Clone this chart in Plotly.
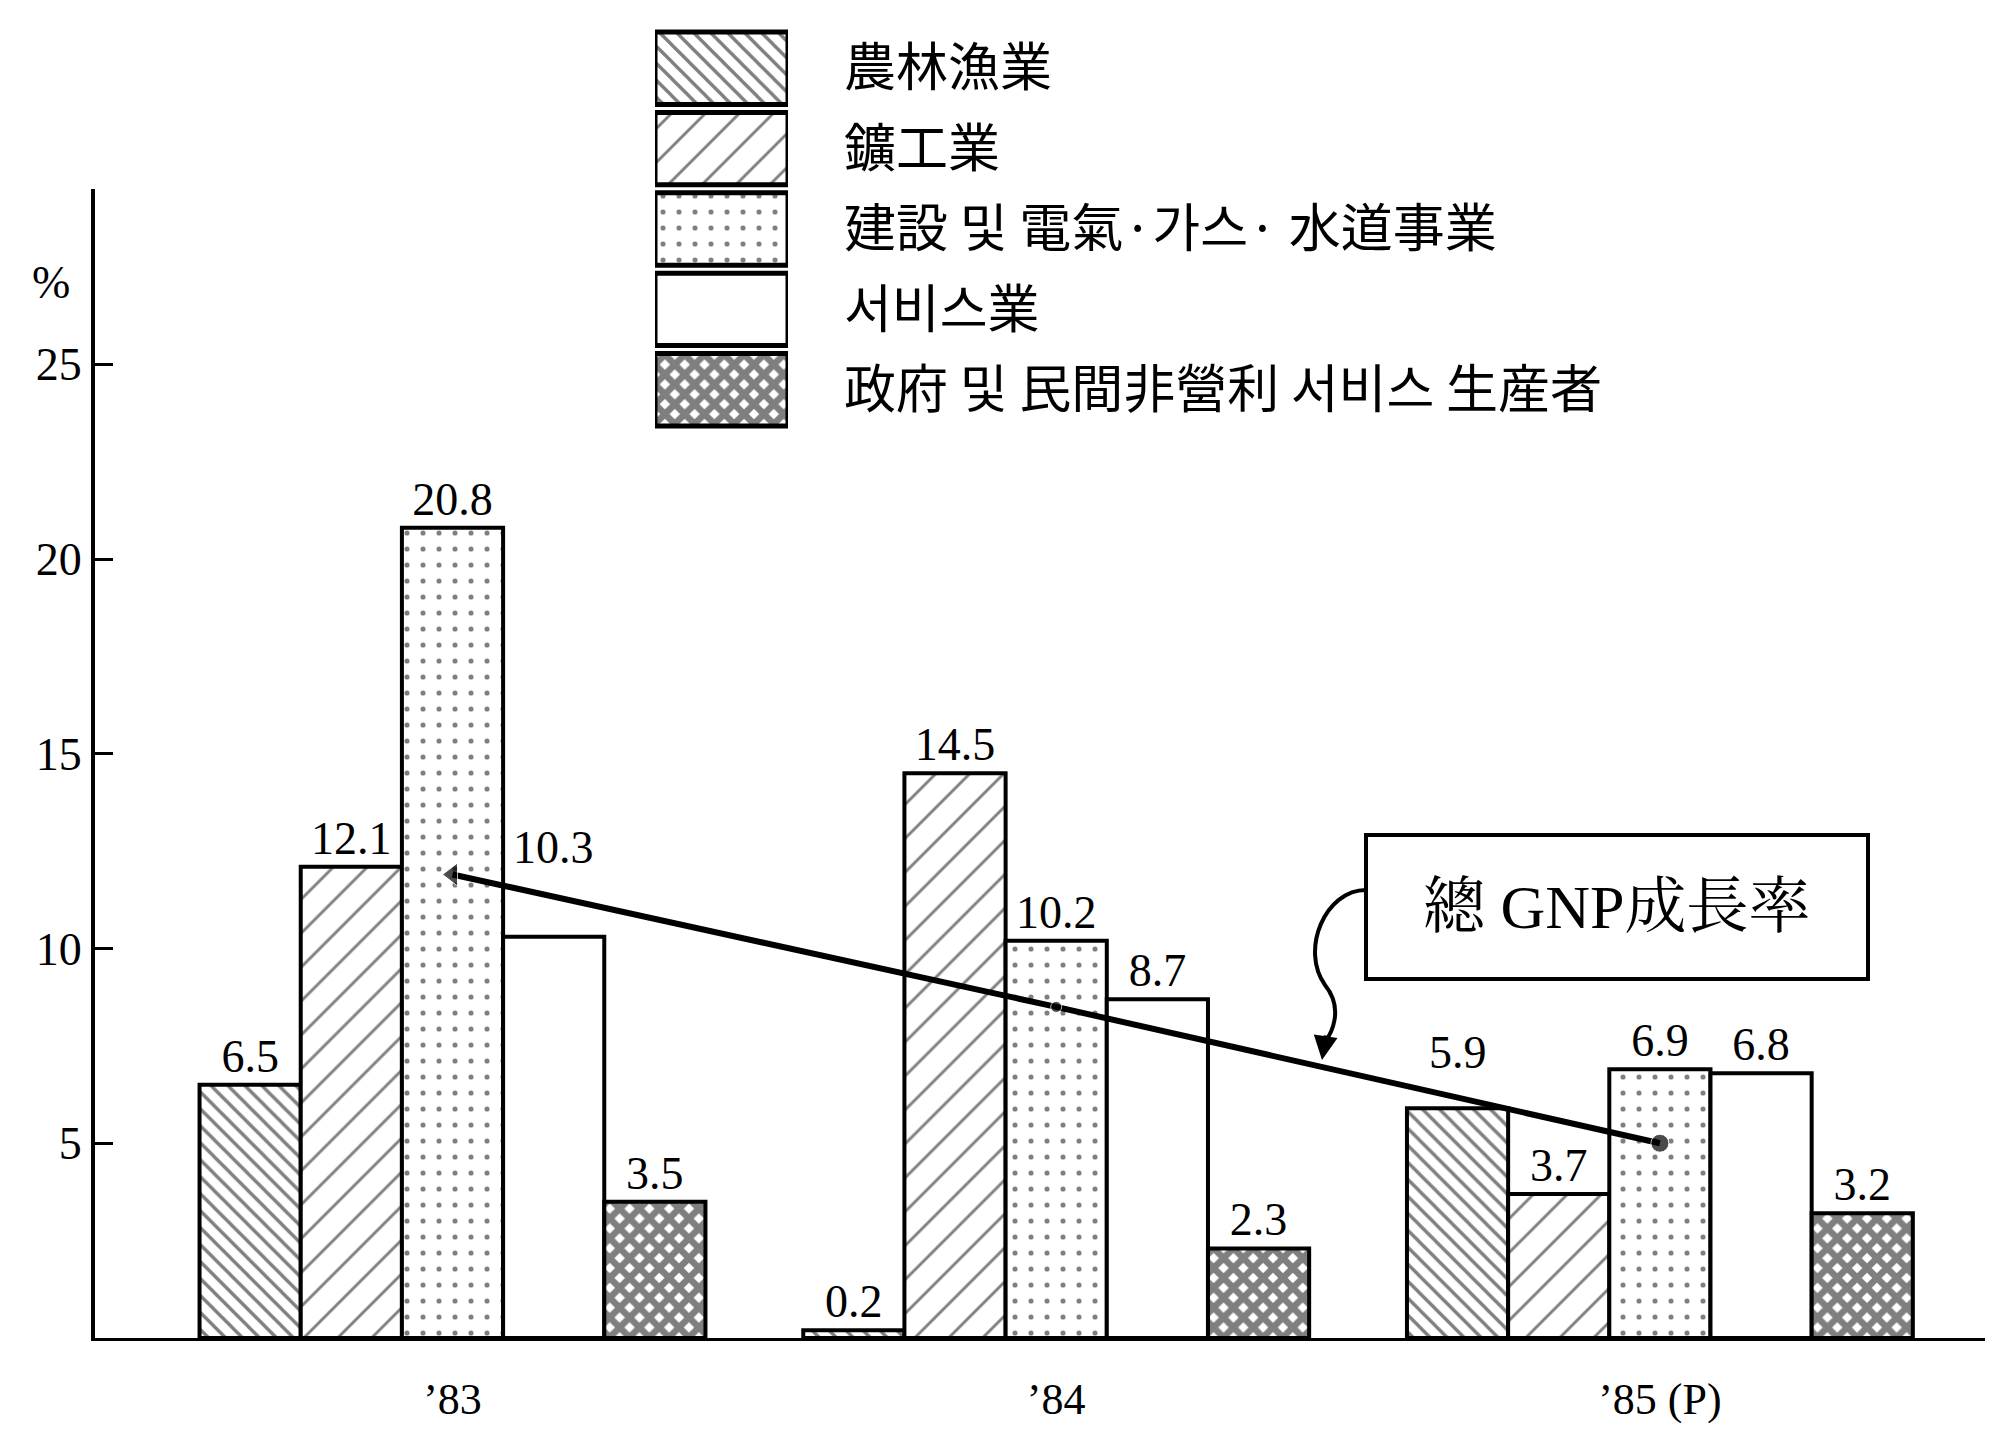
import plotly.graph_objects as go

# ---------------- data ----------------
years = ["’83", "’84", "’85 (P)"]
series_names = [
    "農林漁業",
    "鑛工業",
    "建設 및 電氣·가스· 水道事業",
    "서비스業",
    "政府 및 民間非營利 서비스 生産者",
]
agri = [6.5, 0.2, 5.9]
mining = [12.1, 14.5, 3.7]
construction = [20.8, 10.2, 6.9]
services = [10.3, 8.7, 6.8]
government = [3.5, 2.3, 3.2]
gnp_growth = [11.9, 8.5, 5.0]
gnp_label = "總 GNP成長率"
y_ticks = [5, 10, 15, 20, 25]

series_values = [agri, mining, construction, services, government]

# ---------------- styles ----------------
SERIF = "Liberation Serif, Noto Serif CJK KR, Noto Sans CJK KR, serif"
CJK = "Noto Sans CJK KR, Noto Sans CJK JP, sans-serif"
patterns = [
    dict(shape="\\", size=12, solidity=0.28, fgcolor="black", bgcolor="white"),
    dict(shape="/", size=24, solidity=0.12, fgcolor="black", bgcolor="white"),
    dict(shape=".", size=16, solidity=0.08, fgcolor="black", bgcolor="white"),
    dict(shape="", fgcolor="black", bgcolor="white"),
    dict(shape="x", size=14, solidity=0.72, fgcolor="black", bgcolor="white"),
]
# labels lifted above the GNP line: (series index, year index) -> extra pixels
label_lift = {(3, 0): 62, (0, 2): 28}

# page body has an 8px margin; size the figure so absolute positions match
OFF = 8
W, H = 1993 - 2 * OFF, 1431 - 2 * OFF
PLOT_L, PLOT_R, PLOT_T, PLOT_B = 95, 1985, 20, 1338   # absolute page pixels
L = PLOT_L - OFF
T = PLOT_T - OFF
R = (OFF + W) - PLOT_R
B = (OFF + H) - PLOT_B
plot_w = PLOT_R - PLOT_L
plot_h = PLOT_B - PLOT_T

def px(X):
    return (X - PLOT_L) / plot_w

def py(Y):
    return (PLOT_B - Y) / plot_h

unit = 603.7                      # pixels per category
BARGAP = 0.162
x0 = (PLOT_L - 452.5) / unit
x1 = (PLOT_R - 452.5) / unit
bar_px = unit * (1 - BARGAP) / len(series_names)

fig = go.Figure()

for si, (name, vals, pat) in enumerate(zip(series_names, series_values, patterns)):
    texts = [("" if (si, yi) in label_lift else f"{v:g}") for yi, v in enumerate(vals)]
    fig.add_trace(go.Bar(
        x=years, y=vals, name=name,
        marker=dict(color="white", pattern=pat, line=dict(color="black", width=4)),
        text=texts, textposition="outside",
        textfont=dict(family=SERIF, size=46, color="black"),
        constraintext="none", cliponaxis=False, showlegend=False,
    ))

# GNP growth line
fig.add_trace(go.Scatter(
    x=years, y=gnp_growth, mode="lines+markers", name=gnp_label,
    line=dict(color="black", width=6),
    marker=dict(symbol=["triangle-left", "circle", "circle"], size=[20, 11, 18], color="black"),
    showlegend=False,
))

# legend built as a mini bar axis
for name, pat in zip(series_names, patterns):
    fig.add_trace(go.Bar(
        x=[1], y=[name], orientation="h", width=0.9,
        marker=dict(color="white", pattern=pat, line=dict(color="black", width=5)),
        xaxis="x2", yaxis="y2", showlegend=False, hoverinfo="skip",
    ))

fig.update_layout(
    width=W, height=H,
    margin=dict(l=L, r=R, t=T, b=B, pad=0),
    paper_bgcolor="white", plot_bgcolor="white",
    barmode="group", bargap=BARGAP, bargroupgap=0,
    font=dict(family=SERIF, color="black"),
    xaxis=dict(
        domain=[0, 1], range=[x0, x1],
        showline=True, linecolor="black", linewidth=3,
        ticks="", showgrid=False, zeroline=False,
        tickfont=dict(family=SERIF, size=44, color="black"),
        ticklabelstandoff=20,
    ),
    yaxis=dict(
        domain=[0, py(189)], range=[0, 29.5],
        tickvals=y_ticks, ticktext=[str(v) for v in y_ticks],
        showline=True, linecolor="black", linewidth=4,
        ticks="inside", ticklen=18, tickwidth=3, tickcolor="black",
        showgrid=False, zeroline=False,
        tickfont=dict(family=SERIF, size=46, color="black"),
    ),
    xaxis2=dict(domain=[px(655), px(788)], range=[0, 1], visible=False, anchor="y2"),
    yaxis2=dict(
        domain=[py(430), py(28)],
        anchor="x2", side="right", autorange="reversed",
        showline=False, ticks="", showgrid=False, zeroline=False,
        tickfont=dict(family=CJK, size=52, color="black"),
        ticklabelstandoff=55,
    ),
)

# lifted value labels
n = len(series_names)
for (si, yi), lift in label_lift.items():
    v = series_values[si][yi]
    fig.add_annotation(
        x=years[yi], y=v, xref="x", yref="y",
        xshift=(si - (n - 1) / 2) * bar_px, yshift=lift,
        xanchor="center", yanchor="bottom",
        text=f"{v:g}", showarrow=False,
        font=dict(family=SERIF, size=46, color="black"),
    )

# % label
fig.add_annotation(x=px(51), y=py(282), xref="paper", yref="paper",
                   xanchor="center", yanchor="middle",
                   text="%", showarrow=False, font=dict(family=SERIF, size=46, color="black"))

# GNP label box
fig.add_shape(type="rect", xref="paper", yref="paper",
              x0=px(1366), x1=px(1868), y0=py(979), y1=py(835),
              line=dict(color="black", width=4), fillcolor="white")
fig.add_annotation(x=(px(1366) + px(1868)) / 2, y=(py(979) + py(835)) / 2,
                   xref="paper", yref="paper", xanchor="center", yanchor="middle",
                   text=gnp_label, showarrow=False,
                   font=dict(family=SERIF, size=62, color="black"))

# curved connector from box to line
path = (f"M {px(1366)},{py(890)} "
        f"C {px(1325)},{py(890)} {px(1300)},{py(950)} {px(1325)},{py(985)} "
        f"C {px(1345)},{py(1010)} {px(1330)},{py(1035)} {px(1326)},{py(1040)}")
fig.add_shape(type="path", xref="paper", yref="paper", path=path,
              line=dict(color="black", width=4))
fig.add_annotation(x=px(1322), y=py(1060), xref="paper", yref="paper",
                   ax=4, ay=-26, text="", showarrow=True,
                   arrowhead=2, arrowsize=1.2, arrowwidth=4, arrowcolor="black")

fig.write_html("out.html")
